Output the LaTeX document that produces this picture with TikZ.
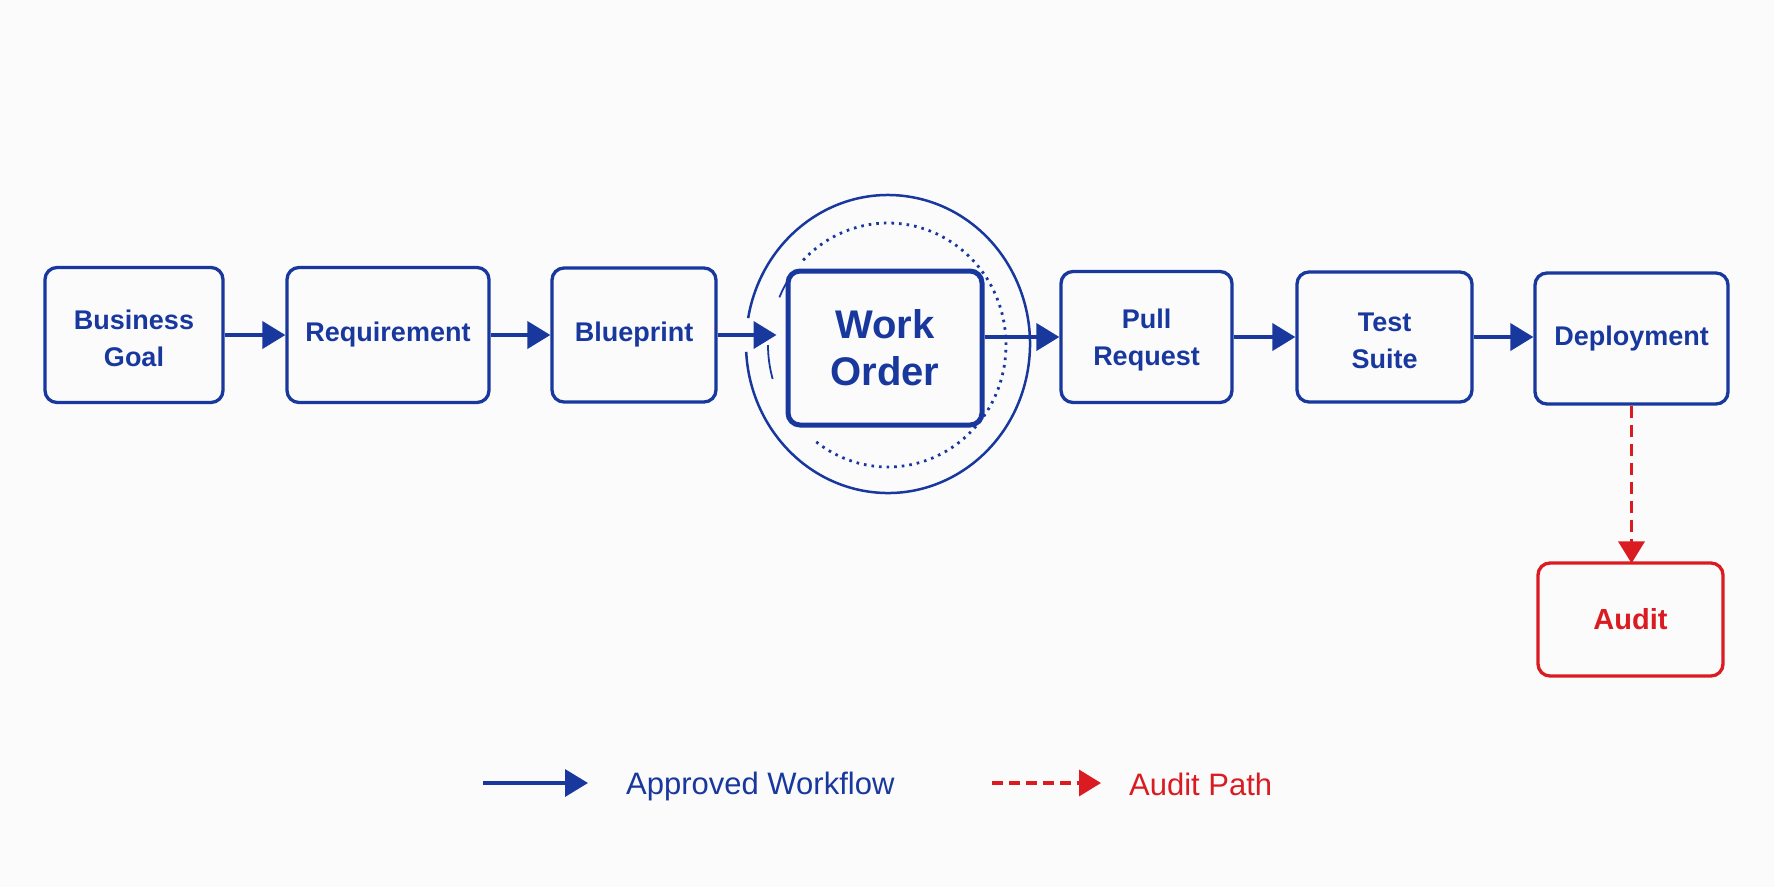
\documentclass[tikz,border=0pt]{standalone}
\usepackage{fontspec}
\setmainfont{Liberation Sans}
\usetikzlibrary{arrows.meta}
\definecolor{wfblue}{RGB}{24,56,158}
\definecolor{wfred}{RGB}{218,28,34}
\definecolor{bgc}{RGB}{251,251,252}
\tikzset{
  box/.style={draw=wfblue, line width=3.3pt, rounded corners=12pt, text=wfblue,
    font=\fontsize{27}{37}\selectfont\bfseries, align=center, inner sep=0pt},
  flow/.style={draw=wfblue, line width=4pt, -{Triangle[length=23pt,width=27pt]}},
  audflow/.style={draw=wfred, line width=3.8pt, dash pattern=on 12pt off 7pt,
    -{Triangle[length=22pt,width=26pt]}},
  legtext/.style={anchor=base west, font=\fontsize{31}{36}\selectfont, inner sep=0pt},
  halo/.style={draw=wfblue, line width=2.5pt},
  dotring/.style={draw=wfblue, line width=2.8pt, dash pattern=on 2.6pt off 5pt},
  thinring/.style={draw=wfblue, line width=1.8pt},
}
\begin{document}
\begin{tikzpicture}[x=1pt,y=-1pt]
\fill[bgc] (0,0) rectangle (1774,887);
\useasboundingbox (0,0) rectangle (1774,887);

% halo rings around Work Order
\coordinate (hc) at (888,344);
\draw[halo] (hc) ++(190:142 and 149) arc[start angle=190, end angle=537, x radius=142, y radius=149];
\coordinate (dc) at (888,345);
\draw[dotring] (dc) ++(-136:118 and 122) arc[start angle=-136, end angle=129, x radius=118, y radius=122];
\draw[thinring] (dc) ++(-157:118 and 122) arc[start angle=-157, end angle=-146, x radius=118, y radius=122];
\draw[thinring] (dc) ++(164:120 and 123) arc[start angle=164, end angle=180, x radius=120, y radius=123];

% boxes
\node[box, minimum width=178, minimum height=135] (bg) at (134,335) {\strut Business\\Goal};
\node[box, minimum width=202, minimum height=135] (req) at (388,335) {Requirement};
\node[box, minimum width=164, minimum height=134] (bp) at (634,335) {Blueprint};
\node[box, line width=5pt, minimum width=194, minimum height=154,
      font=\fontsize{40}{47}\selectfont\bfseries] (wo) at (885,348) {Work\\Order};
\node[box, minimum width=171, minimum height=131] (pr) at (1146.5,337) {\strut Pull\\Request};
\node[box, minimum width=175, minimum height=130] (ts) at (1384.5,337) {\strut Test\\Suite};
\node[box, minimum width=193, minimum height=131] (dep) at (1631.5,338.5) {Deployment};
\node[box, draw=wfred, text=wfred, minimum width=185, minimum height=113,
      font=\fontsize{29}{36}\selectfont\bfseries] (aud) at (1630.5,619.5) {Audit};

% connectors
\draw[flow] (bg.east) -- (req.west);
\draw[flow] (req.east) -- (bp.west);
\draw[flow] (bp.east) -- ([xshift=-9pt]bp.east -| wo.west);
\draw[flow] (wo.east |- pr.west) -- (pr.west);
\draw[flow] (pr.east) -- (ts.west);
\draw[flow] (ts.east) -- (ts.east -| dep.west);
\draw[audflow] (dep.south) -- ([yshift=-2pt]dep.south |- aud.north);

% legend
\coordinate (la1) at (483,783);
\coordinate (la2) at (588,783);
\draw[flow, line width=3.5pt] (la1) -- (la2);
\node[legtext, text=wfblue] (lt1) at (626,794) {Approved Workflow};
\coordinate (lb1) at (992,783);
\coordinate (lb2) at (1101,783);
\draw[audflow, line width=3.5pt, dash pattern=on 11pt off 6pt] (lb1) -- (lb2);
\node[legtext, text=wfred] (lt2) at (1129,795) {Audit Path};
\end{tikzpicture}
\end{document}
